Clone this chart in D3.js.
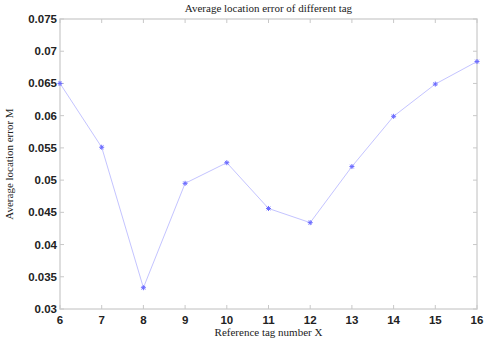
<!DOCTYPE html>
<html>
<head>
<meta charset="utf-8">
<script src="https://cdn.jsdelivr.net/npm/d3@7"></script>
<style>
  body { margin: 0; background: #fff; }
  svg { display: block; }
</style>
</head>
<body>
<svg id="chart" width="484" height="347"></svg>
<script>
var tagNumbers = [6, 7, 8, 9, 10, 11, 12, 13, 14, 15, 16];
var locationError = [0.0650, 0.0551, 0.0333, 0.0495, 0.0527, 0.0456, 0.0434, 0.0521, 0.0599, 0.0649, 0.0684];
var xTicks = [6, 7, 8, 9, 10, 11, 12, 13, 14, 15, 16];
var yTicks = [0.03, 0.035, 0.04, 0.045, 0.05, 0.055, 0.06, 0.065, 0.07, 0.075];

var svg = d3.select("#chart");
var plotLeft = 60, plotRight = 477, plotTop = 19, plotBottom = 309;

var x = d3.scaleLinear().domain([6, 16]).range([plotLeft, plotRight]);
var y = d3.scaleLinear().domain([0.03, 0.075]).range([plotBottom, plotTop]);

// box
svg.append("rect")
    .attr("x", plotLeft).attr("y", plotTop)
    .attr("width", plotRight - plotLeft).attr("height", plotBottom - plotTop)
    .style("fill", "none").style("stroke", "#d4d4d4").style("stroke-width", 1.5);

var tickLen = 4;
var tickColor = "#c8c8c8";

// x ticks (bottom and top, pointing inward)
xTicks.forEach(function (t) {
    svg.append("line").attr("x1", x(t)).attr("x2", x(t)).attr("y1", plotBottom).attr("y2", plotBottom - tickLen)
        .style("stroke", tickColor);
    svg.append("line").attr("x1", x(t)).attr("x2", x(t)).attr("y1", plotTop).attr("y2", plotTop + tickLen)
        .style("stroke", tickColor);
    svg.append("text")
        .attr("x", x(t)).attr("y", plotBottom + 15)
        .attr("text-anchor", "middle")
        .style("font", "bold 11.5px 'Liberation Sans', Arial, sans-serif")
        .style("fill", "#222")
        .text(t);
});

// y ticks
yTicks.forEach(function (t) {
    svg.append("line").attr("x1", plotLeft).attr("x2", plotLeft + tickLen).attr("y1", y(t)).attr("y2", y(t))
        .style("stroke", tickColor);
    svg.append("line").attr("x1", plotRight).attr("x2", plotRight - tickLen).attr("y1", y(t)).attr("y2", y(t))
        .style("stroke", tickColor);
    svg.append("text")
        .attr("x", plotLeft - 3).attr("y", y(t) + 4)
        .attr("text-anchor", "end")
        .style("font", "bold 11.5px 'Liberation Sans', Arial, sans-serif")
        .style("fill", "#222")
        .text(d3.format("")(t));
});

// line
var line = d3.line()
    .x(function (d, i) { return x(tagNumbers[i]); })
    .y(function (d) { return y(d); });

svg.append("path")
    .datum(locationError)
    .attr("d", line)
    .style("fill", "none")
    .style("stroke", "#c4c4ff")
    .style("stroke-width", 1);

// star markers
var markers = svg.selectAll(".marker").data(locationError).enter().append("g")
    .classed("marker", true)
    .attr("transform", function (d, i) { return "translate(" + x(tagNumbers[i]) + "," + y(d) + ")"; });

markers.append("path")
    .attr("d", "M-2.5,0H2.5M0,-2.5V2.5M-1.8,-1.8L1.8,1.8M-1.8,1.8L1.8,-1.8")
    .style("stroke", "#6a6aff")
    .style("stroke-width", 1);

// title and labels
svg.append("text")
    .attr("x", (plotLeft + plotRight) / 2).attr("y", 12)
    .attr("text-anchor", "middle")
    .style("font", "11px 'Liberation Serif', 'Times New Roman', serif")
    .style("fill", "#222")
    .text("Average location error of different tag");

svg.append("text")
    .attr("x", (plotLeft + plotRight) / 2).attr("y", 336)
    .attr("text-anchor", "middle")
    .style("font", "11px 'Liberation Serif', 'Times New Roman', serif")
    .style("fill", "#222")
    .text("Reference tag number X");

svg.append("text")
    .attr("transform", "translate(13," + ((plotTop + plotBottom) / 2) + ") rotate(-90)")
    .attr("text-anchor", "middle")
    .style("font", "11px 'Liberation Serif', 'Times New Roman', serif")
    .style("fill", "#222")
    .text("Average location error M");
</script>
</body>
</html>
